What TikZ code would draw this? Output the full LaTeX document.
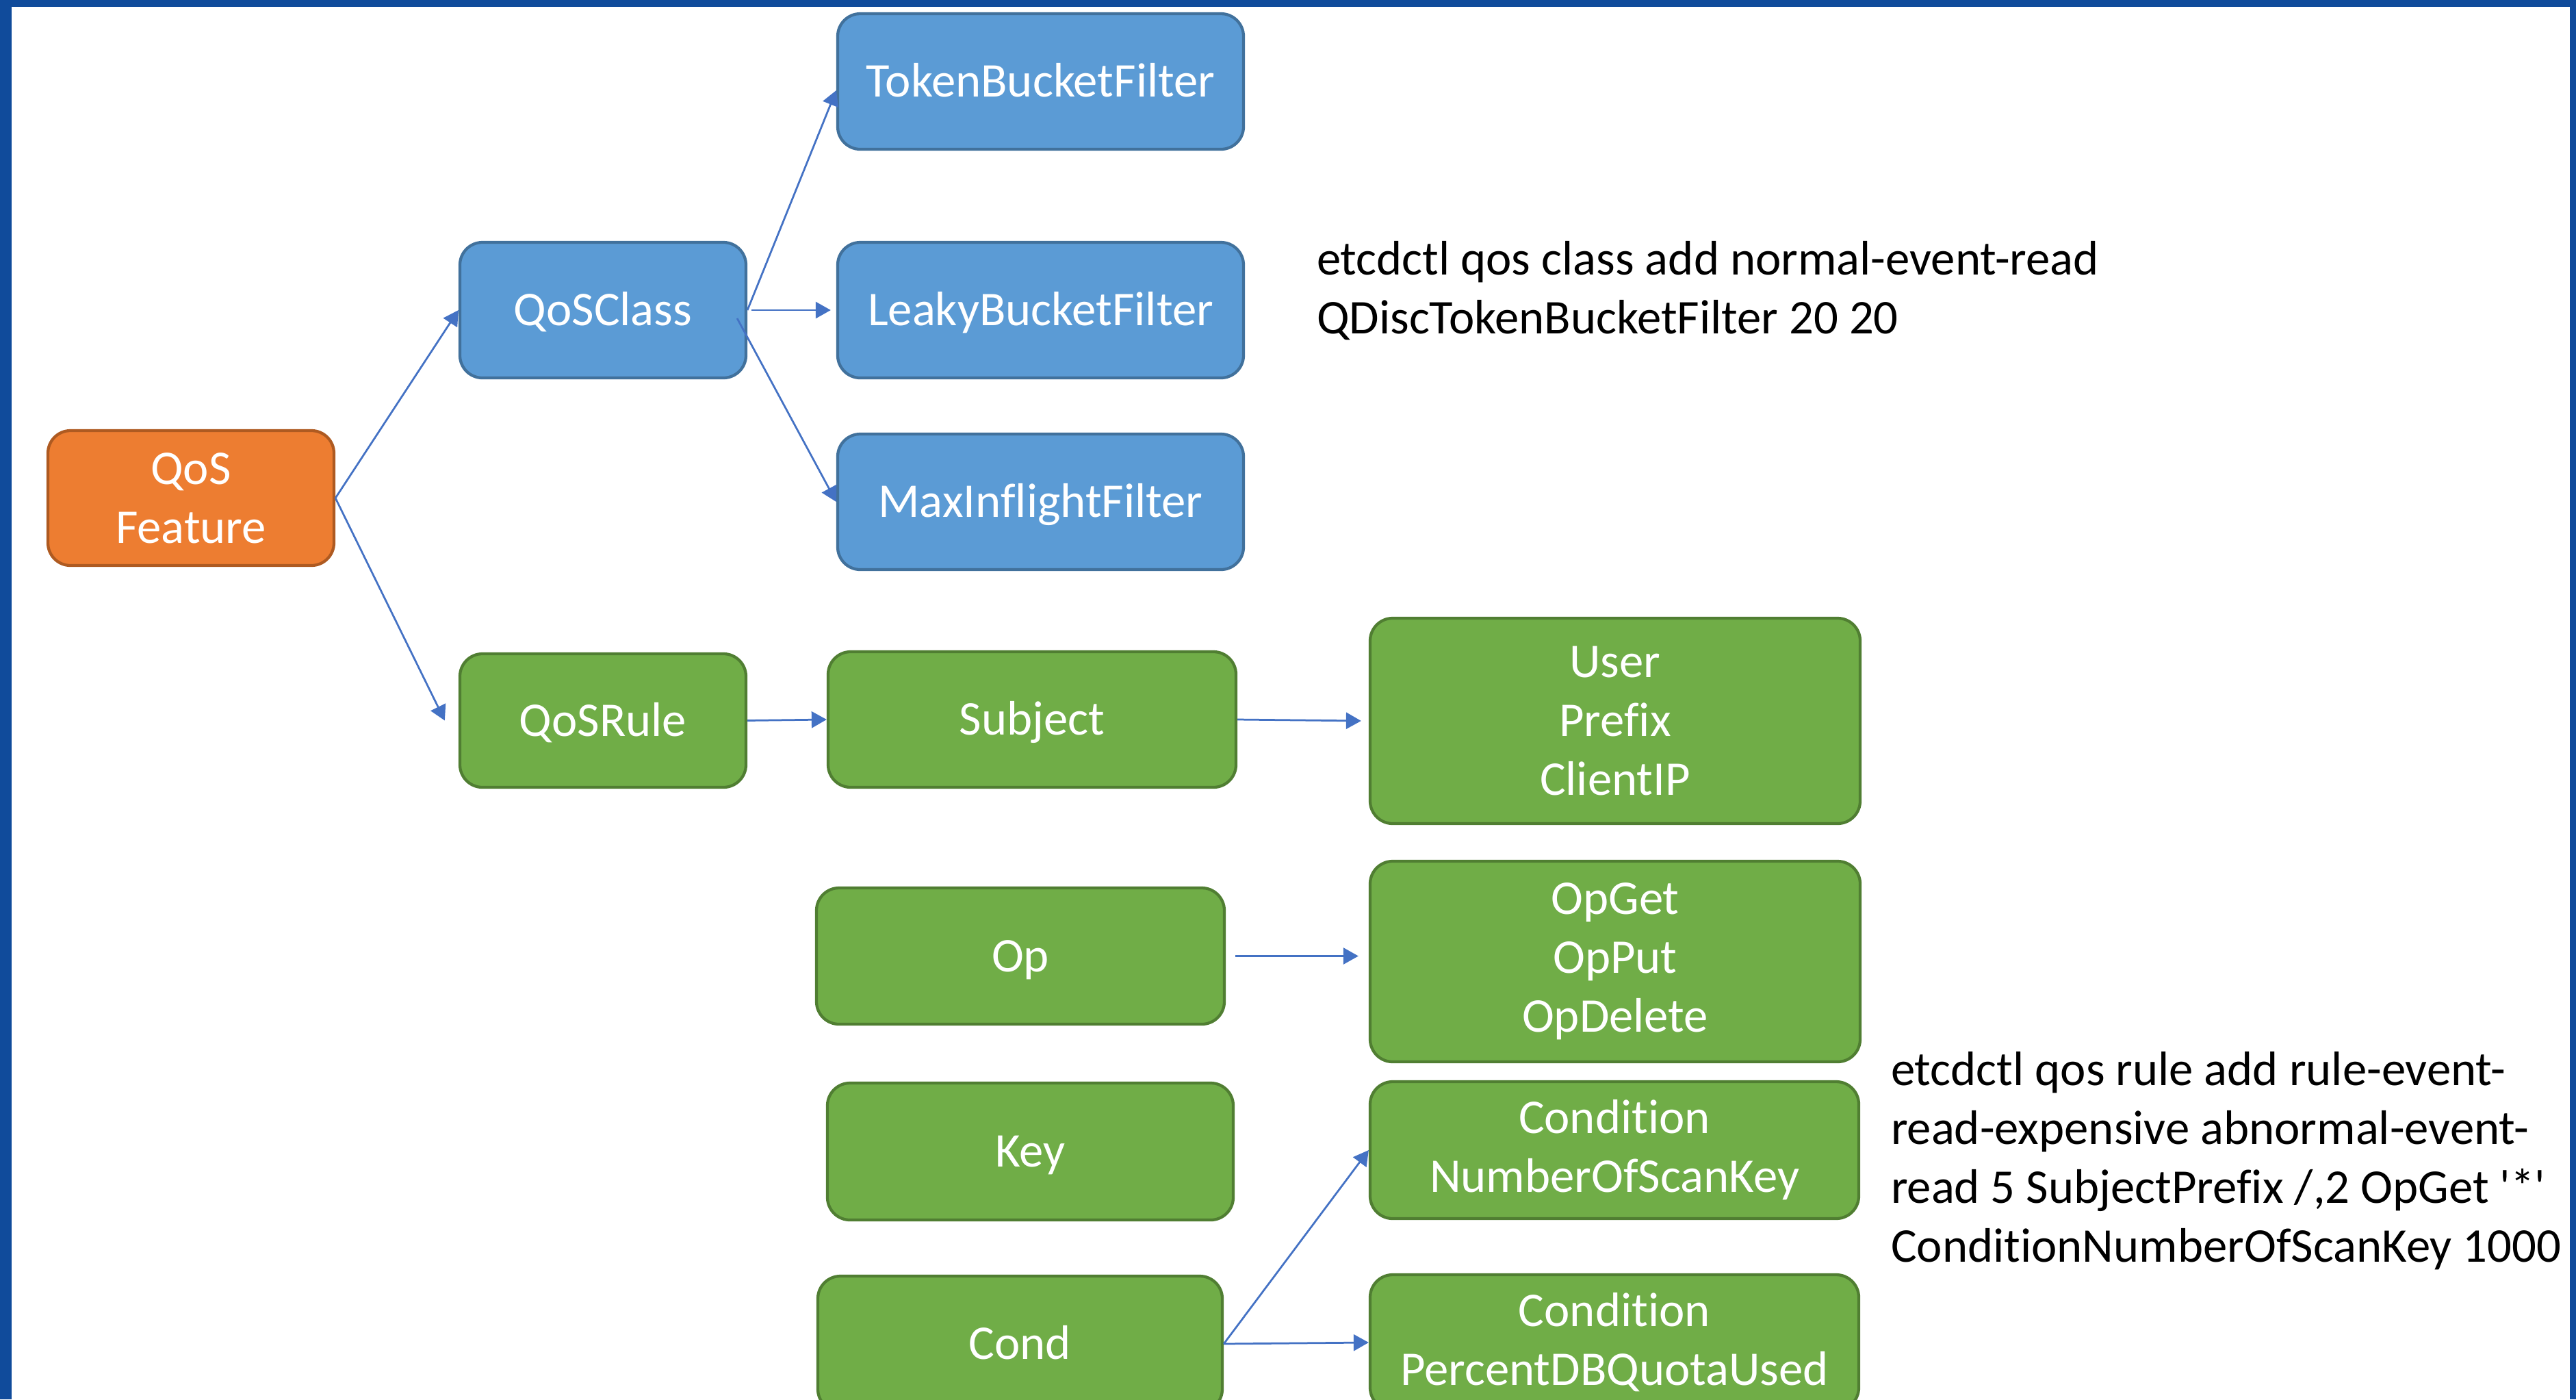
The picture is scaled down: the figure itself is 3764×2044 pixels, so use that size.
\documentclass[tikz,border=0pt]{standalone}
\usepackage{fontspec}
\setmainfont[Ligatures={TeX,NoCommon}]{Carlito}
\usetikzlibrary{arrows.meta,calc}

\definecolor{framebl}{RGB}{16,75,155}
\definecolor{featfill}{HTML}{ED7D31}
\definecolor{featline}{HTML}{AE5A21}
\definecolor{clsfill}{HTML}{5B9BD5}
\definecolor{clsline}{HTML}{41719C}
\definecolor{rulefill}{HTML}{70AD47}
\definecolor{ruleline}{HTML}{507E32}
\definecolor{connbl}{HTML}{4472C4}

\begin{document}
\begin{tikzpicture}[x=0.2pt,y=-0.2pt,
  box/.style={rectangle, rounded corners=6.6pt, line width=0.85pt, text=white,
    align=center, inner sep=0pt, font=\fontsize{14.15}{17.2}\selectfont},
  oneline/.style={text height=9.1pt, text depth=0pt},
  featbox/.style={box, fill=featfill, draw=featline},
  clsbox/.style={box, fill=clsfill, draw=clsline},
  rulebox/.style={box, fill=rulefill, draw=ruleline},
  note/.style={anchor=base west, inner sep=0pt, text=black,
    font=\fontsize{14.15}{17.2}\selectfont},
  conn/.style={draw=connbl, line width=0.55pt,
    -{Triangle[length=4.4pt,width=4.8pt]}}]

\useasboundingbox (0,0) rectangle (3764,2044);
\clip (0,0) rectangle (3764,2044);

% blue frame round the slide
\fill[framebl] (0,0) rectangle (17,2044);
\fill[framebl] (0,0) rectangle (3764,10);
\fill[framebl] (3755,0) rectangle (3764,2044);

% feature root
\node[featbox, minimum width=83.6pt, minimum height=39.4pt] (feat) at (279,727.5) {QoS\\Feature};

% QoS classes and their filters
\node[clsbox, oneline, minimum width=83.6pt, minimum height=39.6pt] (cls) at (881,453) {QoSClass};
\node[clsbox, oneline, minimum width=118.6pt, minimum height=39.6pt] (tbf) at (1520.5,119) {TokenBucketFilter};
\node[clsbox, oneline, minimum width=118.6pt, minimum height=39.6pt] (lbf) at (1520.5,453) {LeakyBucketFilter};
\node[clsbox, oneline, minimum width=118.6pt, minimum height=39.6pt] (mif) at (1520.5,733) {MaxInflightFilter};

% QoS rules and their parts
\node[rulebox, oneline, minimum width=83.6pt, minimum height=39pt] (rule) at (881,1052.5) {QoSRule};
\node[rulebox, oneline, minimum width=119.2pt, minimum height=39.6pt] (subj) at (1508,1051) {Subject};
\node[rulebox, minimum width=143.2pt, minimum height=60pt] (usr) at (2360,1053) {User\\Prefix\\ClientIP};
\node[rulebox, oneline, minimum width=119.2pt, minimum height=39.8pt] (op) at (1491,1396.5) {Op};
\node[rulebox, minimum width=143.2pt, minimum height=58.6pt] (ops) at (2360,1404.5) {OpGet\\OpPut\\OpDelete};
\node[rulebox, oneline, minimum width=118.6pt, minimum height=40pt] (key) at (1505.5,1682) {Key};
\node[rulebox, minimum width=142.8pt, minimum height=40pt] (nsk) at (2359,1680) {Condition\\NumberOfScanKey};
\node[rulebox, oneline, minimum width=118.2pt, minimum height=39.6pt] (cond) at (1490.5,1963) {Cond};
\node[rulebox, minimum width=142.8pt, minimum height=39.6pt] (pdq) at (2359,1961) {Condition\\PercentDBQuotaUsed};

% command examples
\node[note] (clsnote) at (1923,401)
  {\begin{tabular}[t]{@{}l@{}}etcdctl qos class add normal-event-read\\QDiscTokenBucketFilter 20 20\end{tabular}};
\node[note] (rulenote) at (2762,1585)
  {\begin{tabular}[t]{@{}l@{}}etcdctl qos rule add rule-event-\\read-expensive abnormal-event-\\read 5 SubjectPrefix /,2 OpGet \textquotesingle*\textquotesingle\\ConditionNumberOfScanKey 1000\end{tabular}};

% connectors
\draw[conn] (feat.east) -- (cls.west);
\draw[conn] (feat.east) -- ([xshift=-4pt]rule.west);
\draw[conn] (cls.east) -- ([yshift=-2.6pt]tbf.west);
\draw[conn] ([xshift=1.2pt]cls.east) -- ([xshift=-1.6pt]lbf.west);
\draw[conn] ([xshift=-3pt,yshift=-2.4pt]cls.east) -- (mif.west);
\draw[conn] (rule.east) -- (subj.west);
\draw[conn] (subj.east) -- ([xshift=-2.2pt]usr.west);
\draw[conn] ([xshift=2.8pt]op.east) -- ($(op.east -| ops.west)+(-15,0)$);
\draw[conn] (cond.east) -- (nsk.west);
\draw[conn] (cond.east) -- (pdq.west);
\end{tikzpicture}
\end{document}
